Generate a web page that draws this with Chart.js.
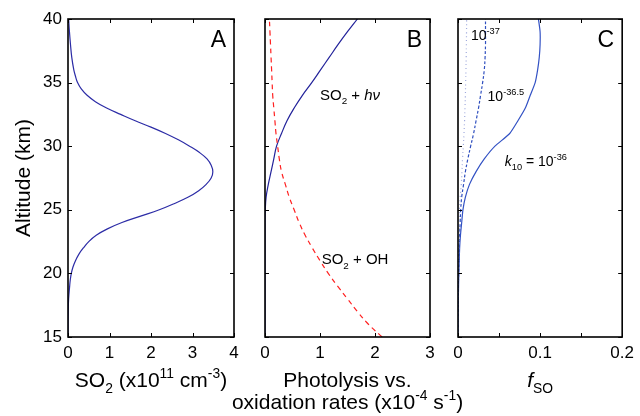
<!DOCTYPE html>
<html>
<head>
<meta charset="utf-8">
<script src="https://cdn.jsdelivr.net/npm/chart.js@4"></script>
<style>
  body { margin: 0; background: #fff; }
  #wrap { position: relative; width: 640px; height: 416px; }
  #wrap canvas { position: absolute; left: 0; top: 0; }
</style>
</head>
<body>
<div id="wrap">
  <canvas id="panelA" width="640" height="416"></canvas>
  <canvas id="panelB" width="640" height="416"></canvas>
  <canvas id="panelC" width="640" height="416"></canvas>
</div>
<script>
// ---- data ----
const altitudes = [15, 16, 17, 18, 19, 20, 21, 22, 23, 24, 25, 26, 27, 28, 29, 30, 31, 32, 33, 34, 35, 36, 37, 38, 39, 40];

// A: SO2 concentration (x10^11 cm^-3), finer steps round the peak
const altA = [15, 16, 17, 18, 19, 19.5, 20, 20.5, 21, 21.5, 22, 22.5, 23, 23.5, 24, 24.5, 25, 25.5, 26, 26.5, 27, 27.5, 28,
              28.5, 29, 29.5, 30, 30.5, 31, 31.5, 32, 32.5, 33, 33.5, 34, 34.5, 35, 35.5, 36, 37, 38, 39, 40];
const so2Conc = [0, 0, 0.005, 0.015, 0.04, 0.055, 0.08, 0.12, 0.18, 0.26, 0.37, 0.5, 0.68, 0.95, 1.3, 1.75, 2.2, 2.57, 2.9, 3.15, 3.33, 3.45, 3.49,
                 3.45, 3.35, 3.17, 2.93, 2.66, 2.35, 2.0, 1.62, 1.27, 0.93, 0.66, 0.46, 0.32, 0.23, 0.18, 0.14, 0.09, 0.06, 0.035, 0.015];

// B: rates (x10^-4 s^-1)
const photolysis = [0, 0, 0, 0, 0, 0, 0, 0, 0, 0, 0.005, 0.02, 0.06, 0.11, 0.16, 0.21, 0.3, 0.4, 0.53, 0.68, 0.85, 1.01, 1.17, 1.33, 1.5, 1.68];
const ohOxidation = [2.13, 1.88, 1.68, 1.5, 1.32, 1.15, 1.0, 0.86, 0.73, 0.62, 0.53, 0.44, 0.37, 0.3, 0.26, 0.23, 0.2, 0.18, 0.16, 0.14, 0.13, 0.12, 0.11, 0.1, 0.09, 0.08];

// C: f_SO for three k10 values
const fso36 = [0, 0, 0.0002, 0.0004, 0.0007, 0.001, 0.0015, 0.002, 0.003, 0.0045, 0.006, 0.009, 0.014, 0.022, 0.032, 0.045, 0.063, 0.073, 0.082, 0.088, 0.094, 0.097, 0.099, 0.1, 0.1, 0.098];
const fso365 = [0, 0, 0.0001, 0.0002, 0.0004, 0.0008, 0.0011, 0.0014, 0.002, 0.0026, 0.0033, 0.0045, 0.0068, 0.009, 0.012, 0.0154, 0.019, 0.022, 0.025, 0.0275, 0.03, 0.032, 0.033, 0.0335, 0.0335, 0.0335];
const fso37 = [0, 0, 0.0001, 0.0002, 0.0003, 0.0005, 0.0007, 0.0009, 0.0012, 0.0015, 0.0018, 0.0027, 0.004, 0.0048, 0.0055, 0.0065, 0.0073, 0.008, 0.0085, 0.009, 0.0093, 0.0097, 0.01, 0.0102, 0.0104, 0.0105];

// ticks
const altTicks = [15, 20, 25, 30, 35, 40];
const ticksA = [0, 1, 2, 3, 4];
const ticksB = [0, 1, 2, 3];
const ticksC = [0, 0.05, 0.1, 0.15, 0.2];
const labelsC = ['0', '', '0.1', '', '0.2'];

const FAM = "'Liberation Sans', Arial, Helvetica, sans-serif";

function pts(vals, alts = altitudes) {
    return vals.map((v, i) => ({ x: v, y: alts[i] }));
}

// text with sub/superscripts and italics
function drawRich(ctx, parts, x, y, size, align) {
    const fontFor = k => (k.includes('i') ? 'italic ' : '') +
        ((k.includes('sub') || k.includes('sup')) ? size * 0.66 : size) + 'px ' + FAM;
    let w = 0;
    parts.forEach(([t, k]) => { ctx.font = fontFor(k); w += ctx.measureText(t).width; });
    let cx = align === 'center' ? x - w / 2 : align === 'right' ? x - w : x;
    ctx.textAlign = 'left';
    ctx.textBaseline = 'alphabetic';
    parts.forEach(([t, k]) => {
        ctx.font = fontFor(k);
        const dy = k.includes('sub') ? size * 0.3 : k.includes('sup') ? -size * 0.42 : 0;
        ctx.fillText(t, cx, y + dy);
        cx += ctx.measureText(t).width;
    });
}

// box round the plot with inward ticks on all four sides
const frameTicks = {
    id: 'frameTicks',
    afterDatasetsDraw(chart) {
        const { ctx, chartArea: a, scales: { x, y } } = chart;
        ctx.save();
        ctx.strokeStyle = '#000';
        ctx.lineWidth = 1;
        ctx.beginPath();
        x.ticks.forEach(t => {
            const px = Math.round(x.getPixelForValue(t.value)) + 0.5;
            ctx.moveTo(px, a.bottom); ctx.lineTo(px, a.bottom - 4);
            ctx.moveTo(px, a.top); ctx.lineTo(px, a.top + 4);
        });
        y.ticks.forEach(t => {
            const py = Math.round(y.getPixelForValue(t.value)) + 0.5;
            ctx.moveTo(a.left, py); ctx.lineTo(a.left + 4, py);
            ctx.moveTo(a.right, py); ctx.lineTo(a.right - 4, py);
        });
        ctx.stroke();
        ctx.lineWidth = 1.6;
        ctx.strokeRect(a.left, a.top, a.right - a.left, a.bottom - a.top);
        ctx.restore();
    }
};

// panel letter, axis titles, in-plot notes
const texts = {
    id: 'texts',
    afterDraw(chart, args, opts) {
        const { ctx, chartArea: a, scales: { x, y } } = chart;
        ctx.save();
        ctx.fillStyle = '#000';
        drawRich(ctx, [[opts.letter, '']], a.right - 8, a.top + 28, 23, 'right');
        const cx = (a.left + a.right) / 2;
        opts.xTitle.forEach((line, i) => drawRich(ctx, line, cx, 387 + i * 22, 21, 'center'));
        (opts.notes || []).forEach(n => {
            drawRich(ctx, n.parts, x.getPixelForValue(n.x), y.getPixelForValue(n.y), n.size || 15, 'left');
        });
        if (opts.yTitle) {
            ctx.translate(22, (a.top + a.bottom) / 2);
            ctx.rotate(-Math.PI / 2);
            drawRich(ctx, opts.yTitle, 0, 8, 21, 'center');
        }
        ctx.restore();
    }
};

function makePanel(id, area, xMax, xTicks, xLabels, showY, datasets, textOpts) {
    // y axis takes all the room left of the plot, x axis all the room below it
    const yW = showY ? area.left : 0;
    const xH = 416 - area.bottom;
    return new Chart(document.getElementById(id), {
        type: 'scatter',
        data: { datasets },
        options: {
            responsive: false,
            animation: false,
            layout: { padding: { left: area.left - yW, right: 640 - area.right, top: area.top, bottom: 0 } },
            plugins: { legend: { display: false }, tooltip: { enabled: false }, texts: textOpts },
            scales: {
                x: {
                    type: 'linear', min: 0, max: xMax,
                    grid: { display: false, drawTicks: false }, border: { display: false },
                    afterBuildTicks: s => { s.ticks = xTicks.map(v => ({ value: v })); },
                    afterFit: s => { s.height = xH; },
                    ticks: {
                        autoSkip: false, maxRotation: 0, padding: 6, color: '#000',
                        font: { family: FAM, size: 17 },
                        callback: (v, i) => xLabels[i]
                    }
                },
                y: {
                    type: 'linear', min: 15, max: 40,
                    grid: { display: false, drawTicks: false }, border: { display: false },
                    afterBuildTicks: s => { s.ticks = altTicks.map(v => ({ value: v })); },
                    afterFit: s => { s.width = yW; },
                    ticks: {
                        display: showY, autoSkip: false, padding: 6, color: '#000',
                        font: { family: FAM, size: 17 }
                    }
                }
            },
            elements: { point: { radius: 0 }, line: { tension: 0.4 } }
        },
        plugins: [frameTicks, texts]
    });
}

makePanel('panelA', { left: 68, right: 234, top: 19, bottom: 337 }, 4, ticksA, ticksA.map(String), true, [
    { data: pts(so2Conc, altA), showLine: true, borderColor: '#2c2ca6', borderWidth: 1.2 }
], {
    letter: 'A',
    xTitle: [[['SO', ''], ['2', 'sub'], [' (x10', ''], ['11', 'sup'], [' cm', ''], ['-3', 'sup'], [')', '']]],
    yTitle: [['Altitude (km)', '']]
});

makePanel('panelB', { left: 265, right: 430, top: 19, bottom: 337 }, 3, ticksB, ticksB.map(String), false, [
    { data: pts(ohOxidation), showLine: true, borderColor: '#ff2020', borderWidth: 1.2, borderDash: [5, 4] },
    { data: pts(photolysis), showLine: true, borderColor: '#22229a', borderWidth: 1.2 }
], {
    letter: 'B',
    xTitle: [
        [['Photolysis vs.', '']],
        [['oxidation rates (x10', ''], ['-4', 'sup'], [' s', ''], ['-1', 'sup'], [')', '']]
    ],
    notes: [
        { x: 1.0, y: 33.65, parts: [['SO', ''], ['2', 'sub'], [' + ', ''], ['hν', 'i']] },
        { x: 1.03, y: 20.7, parts: [['SO', ''], ['2', 'sub'], [' + OH', '']] }
    ]
});

makePanel('panelC', { left: 458, right: 623, top: 19, bottom: 337 }, 0.2, ticksC, labelsC, false, [
    { data: pts(fso37), showLine: true, borderColor: '#a0aadd', borderWidth: 1.2, borderDash: [1, 3] },
    { data: pts(fso365), showLine: true, borderColor: '#2f4fbf', borderWidth: 1.2, borderDash: [3, 2] },
    { data: pts(fso36), showLine: true, borderColor: '#3352c4', borderWidth: 1.2, tension: 0.2 }
], {
    letter: 'C',
    xTitle: [[['f', 'i'], ['SO', 'sub']]],
    notes: [
        { x: 0.0157, y: 38.37, size: 14, parts: [['10', ''], ['-37', 'sup']] },
        { x: 0.036, y: 33.55, size: 14, parts: [['10', ''], ['-36.5', 'sup']] },
        { x: 0.057, y: 28.47, size: 14, parts: [['k', 'i'], ['10', 'sub'], [' = 10', ''], ['-36', 'sup']] }
    ]
});
</script>
</body>
</html>
